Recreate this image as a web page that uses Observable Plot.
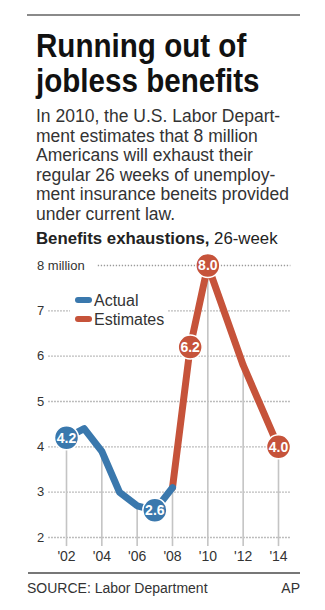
<!DOCTYPE html>
<html>
<head>
<meta charset="utf-8">
<script src="https://cdn.jsdelivr.net/npm/d3@7"></script>
<script src="https://cdn.jsdelivr.net/npm/@observablehq/plot@0.6"></script>
<style>
  html, body { margin: 0; padding: 0; background: #fff; }
  #page { position: relative; width: 325px; height: 610px; overflow: hidden; font-family: "Liberation Sans", Arial, sans-serif; color: #222; }
  .abs { position: absolute; }
  #topRule { left: 27px; top: 14px; width: 273px; height: 2px; background: #8a8a8a; }
  #title { left: 36px; top: 28px; font-family: "Liberation Sans", Arial, sans-serif; font-weight: bold; font-size: 34px; line-height: 35px; color: #111; white-space: nowrap; transform: scaleX(0.87); transform-origin: 0 0; }
  #subtitle { left: 36px; top: 107px; font-size: 17.5px; line-height: 19.5px; color: #333; white-space: nowrap; }
  #chartTitle { left: 36px; top: 229px; font-size: 16.8px; line-height: 20px; color: #222; white-space: nowrap; }
  #chart { left: 0; top: 250px; }
  #legend { left: 70px; top: 291px; width: 98px; height: 38px; background: #fff; font-size: 16px; color: #333; }
  #legend .row { position: absolute; left: 0; height: 19px; line-height: 19px; white-space: nowrap; }
  #legend .sw { position: absolute; left: 5px; top: 6px; width: 17px; height: 6px; border-radius: 3px; }
  #legend .lab { position: absolute; left: 24px; top: 0; }
  #bottomRule { left: 28px; top: 572px; width: 272px; height: 2px; background: #777; }
  #source { left: 27px; top: 580px; font-size: 14px; line-height: 16px; color: #333; white-space: nowrap; }
  #credit { right: 25px; top: 580px; font-size: 14px; line-height: 16px; color: #333; }
</style>
</head>
<body>
<div id="page">
  <div id="topRule" class="abs"></div>
  <div id="title" class="abs">Running out of<br>jobless benefits</div>
  <div id="subtitle" class="abs">In 2010, the U.S. Labor Depart-<br>ment estimates that 8 million<br>Americans will exhaust their<br>regular 26 weeks of unemploy-<br>ment insurance beneits provided<br>under current law.</div>
  <div id="chartTitle" class="abs"><b>Benefits exhaustions,</b> 26-week</div>
  <div id="chart" class="abs"></div>
  <div id="legend" class="abs"></div>
  <div id="bottomRule" class="abs"></div>
  <div id="source" class="abs">SOURCE: Labor Department</div>
  <div id="credit" class="abs">AP</div>
</div>
<script>
// ---- data ----
const actualYears = [2002, 2003, 2004, 2005, 2006, 2007, 2008];
const actualValues = [4.2, 4.4, 3.9, 3.0, 2.7, 2.6, 3.1];
const estimateYears = [2008, 2009, 2010, 2012, 2014];
const estimateValues = [3.1, 6.2, 8.0, 5.8, 4.0];
const labeledYears = [2002, 2007, 2009, 2010, 2014];
const xTicks = [2002, 2004, 2006, 2008, 2010, 2012, 2014];
const xTickLabels = ["'02", "'04", "'06", "'08", "'10", "'12", "'14"];
const yTicks = [2, 3, 4, 5, 6, 7, 8];
const seriesNames = ["Actual", "Estimates"];
const seriesColors = ["#3a78ad", "#c6533a"];

// ---- build tables ----
const actual = actualYears.map((y, i) => ({year: y, value: actualValues[i], series: "Actual"}));
const estimates = estimateYears.map((y, i) => ({year: y, value: estimateValues[i], series: "Estimates"}));
const lookup = new Map();
actual.forEach(d => lookup.set(d.year, d));
estimates.forEach(d => { if (!lookup.has(d.year)) lookup.set(d.year, d); });
const labeled = labeledYears.map(y => lookup.get(y));
const verticals = xTicks.map(y => lookup.get(y));
const color = d3.scaleOrdinal(seriesNames, seriesColors);

const chart = Plot.plot({
  width: 325,
  height: 320,
  marginLeft: 66,
  marginRight: 47,
  marginTop: 15,
  marginBottom: 33,
  style: {fontFamily: "'Liberation Sans', Arial, sans-serif", background: "transparent", overflow: "visible"},
  x: {domain: [2002, 2014], axis: null},
  y: {domain: [2, 8], axis: null},
  marks: [
    Plot.ruleY(yTicks, {y: d => d, x1: d => d === 8 ? 2003.8 : 2001, x2: 2014.7, stroke: "#9a9a9a", strokeWidth: 1.3, strokeDasharray: "1.3,1.7"}),
    Plot.ruleX(verticals, {x: "year", y1: 1.8, y2: "value", stroke: "#c4c4c4", strokeWidth: 1.6}),
    Plot.axisY({ticks: yTicks, label: null, tickSize: 0, tickPadding: 29.5, textAnchor: "start", fontSize: 13, fill: "#333", tickFormat: d => d === 8 ? "8 million" : String(d)}),
    Plot.axisX({ticks: xTicks, label: null, tickSize: 0, tickPadding: 14, fontSize: 14, fill: "#333", tickFormat: d => xTickLabels[xTicks.indexOf(d)]}),
    Plot.line(estimates, {x: "year", y: "value", stroke: seriesColors[1], strokeWidth: 7, strokeLinejoin: "round", strokeLinecap: "round"}),
    Plot.line(actual, {x: "year", y: "value", stroke: seriesColors[0], strokeWidth: 7, strokeLinejoin: "round", strokeLinecap: "round"}),
    Plot.dot(labeled, {x: "year", y: "value", r: 12, fill: d => color(d.series), stroke: "white", strokeWidth: 1.5}),
    Plot.text(labeled, {x: "year", y: "value", text: d => d.value.toFixed(1), fill: "white", fontSize: 14, fontWeight: "bold", dy: 0.5})
  ]
});
document.getElementById("chart").appendChild(chart);

// legend
const legend = document.getElementById("legend");
seriesNames.forEach((name, i) => {
  const row = document.createElement("div");
  row.className = "row";
  row.style.top = (i * 19) + "px";
  row.innerHTML = `<span class="sw" style="background:${seriesColors[i]}"></span><span class="lab">${name}</span>`;
  legend.appendChild(row);
});
</script>
</body>
</html>
